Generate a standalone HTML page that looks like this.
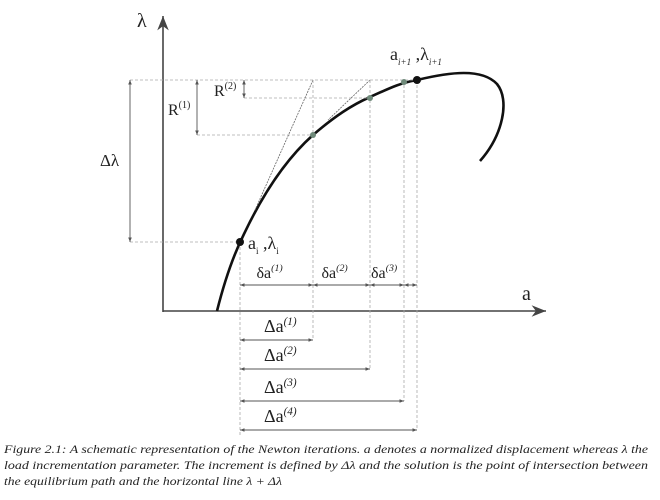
<!DOCTYPE html>
<html><head><meta charset="utf-8"><style>
html,body{margin:0;padding:0;background:#fff;width:660px;height:500px;overflow:hidden}
svg{display:block}
text{font-family:"Liberation Serif","DejaVu Serif",serif;fill:#222}
</style></head><body>
<svg id="fig" width="660" height="500" viewBox="0 0 660 500">
<defs>
<marker id="ah" viewBox="0 0 10 10" refX="10" refY="5" markerWidth="5" markerHeight="5" orient="auto-start-reverse"><path d="M0,1L10,5L0,9z" fill="#555"/></marker>
<marker id="big" viewBox="0 0 10 10" refX="10" refY="5" markerWidth="9" markerHeight="9" orient="auto"><path d="M0,1L10,5L0,9L3,5z" fill="#444"/></marker>
</defs>
<line x1="163" y1="312" x2="163" y2="16" stroke="#444" stroke-width="1.6" marker-end="url(#big)"/>
<line x1="163" y1="311" x2="546" y2="311" stroke="#444" stroke-width="1.6" marker-end="url(#big)"/>
<text x="137" y="27" font-size="20">λ</text>
<text x="522" y="300" font-size="20">a</text>
<path d="M217,311 C224,283 232,258 244,234 C262,196 285,160 313,135 C335,116 352,105 370,97 C390,88 400,83 417,80 C450,72 482,68 497,84 C510,100 503,135 480,161" fill="none" stroke="#111" stroke-width="2.6"/>
<g id="g"></g>
<text x="100" y="166" font-size="17">Δλ</text>
<text x="168" y="115" font-size="16">R<tspan font-size="10" dy="-7">(1)</tspan></text>
<text x="214" y="96" font-size="16">R<tspan font-size="10" dy="-7">(2)</tspan></text>
<text x="248" y="249" font-size="18">a<tspan font-size="9" dy="5">i</tspan><tspan dy="-5"> ,λ</tspan><tspan font-size="9" dy="5">i</tspan></text>
<text x="390" y="60" font-size="18">a<tspan font-size="9" dy="5" font-style="italic">i+1</tspan><tspan dy="-5"> ,λ</tspan><tspan font-size="9" dy="5" font-style="italic">i+1</tspan></text>
<g font-size="11.3" font-style="italic">
<text x="4" y="453" textLength="644" lengthAdjust="spacingAndGlyphs">Figure 2.1: A schematic representation of the Newton iterations. a denotes a normalized displacement whereas λ the</text>
<text x="4" y="469" textLength="644" lengthAdjust="spacingAndGlyphs">load incrementation parameter. The increment is defined by Δλ and the solution is the point of intersection between</text>
<text x="4" y="485" textLength="278" lengthAdjust="spacingAndGlyphs">the equilibrium path and the horizontal line λ + Δλ</text>
</g>
</svg>
<script>
// iterate positions (a in px along axis, λ in px)
const iterA = [240, 313, 370, 404, 417];
const iterL = [242, 135, 98, 82, 80];
const targetL = 80;
const deltaRowsY = [340, 369, 401, 430];
const ns = "http://www.w3.org/2000/svg";
const g = document.getElementById('g');
function mk(tag, attrs, parent) {
  const e = document.createElementNS(ns, tag);
  for (const k in attrs) e.setAttribute(k, attrs[k]);
  (parent || g).appendChild(e);
  return e;
}
function dash(x1,y1,x2,y2,name){
  const l = mk('line',{x1,y1,x2,y2,stroke:'#aaa','stroke-width':0.8,'stroke-dasharray':'3,2'});
  
  
}
function arr(x1,y1,x2,y2,name){
  const l = mk('line',{x1,y1,x2,y2,stroke:'#555','stroke-width':0.9,'marker-start':'url(#ah)','marker-end':'url(#ah)'});
  
  
}
function txt(x,y,main,sup,size,name){
  const t = mk('text',{x,y,'font-size':size});
  t.textContent = main;
  const s = mk('tspan',{'font-size':size*0.62,dy:-7,'font-style':'italic'}, t);
  s.textContent = sup;
  
  
}
dash(130, targetL, iterA[4], targetL, 'target-load-line');
dash(130, iterL[0], iterA[0], iterL[0], 'start-load-line');
dash(197, iterL[1], iterA[1], iterL[1], 'residual-1-line');
dash(244, iterL[2], iterA[2], iterL[2], 'residual-2-line');
arr(130, targetL, 130, iterL[0], 'delta-lambda-arrow');
arr(197, targetL, 197, iterL[1], 'r1-arrow');
arr(244, targetL, 244, iterL[2], 'r2-arrow');
const t1 = mk('line',{x1:iterA[1],y1:targetL,x2:255,y2:210,stroke:'#666','stroke-width':0.8,'stroke-dasharray':'2,1'});


const t2 = mk('line',{x1:iterA[2],y1:targetL,x2:328,y2:120,stroke:'#666','stroke-width':0.8,'stroke-dasharray':'2,1'});


dash(iterA[0], iterL[0], iterA[0], deltaRowsY[3]+5, 'vertical-guide-0');
for (let i = 1; i < iterA.length; i++) {
  dash(iterA[i], targetL, iterA[i], deltaRowsY[i-1], 'vertical-guide-' + i);
}
const dLabels = ['(1)','(2)','(3)'];
for (let i = 0; i < 4; i++) {
  arr(iterA[i], 285, iterA[i+1], 285, 'small-delta-a-arrow-' + (i+1));
  if (i < 3) txt((iterA[i]+iterA[i+1])/2 - (i==2?16:20), 278, 'δa', dLabels[i], 16, 'small-delta-a-label-' + (i+1));
}
for (let i = 0; i < 4; i++) {
  arr(iterA[0], deltaRowsY[i], iterA[i+1], deltaRowsY[i], 'delta-a-arrow-' + (i+1));
  txt(264, deltaRowsY[i]-8, 'Δa', '(' + (i+1) + ')', 18, 'delta-a-label-' + (i+1));
}
for (let i = 0; i < iterA.length; i++) {
  const black = (i === 0 || i === iterA.length-1);
  const c = mk('circle',{cx:iterA[i],cy:iterL[i],r:black?4:3,fill:black?'#111':'#6f8a7a'});
  
  
}
</script>
</body></html>
